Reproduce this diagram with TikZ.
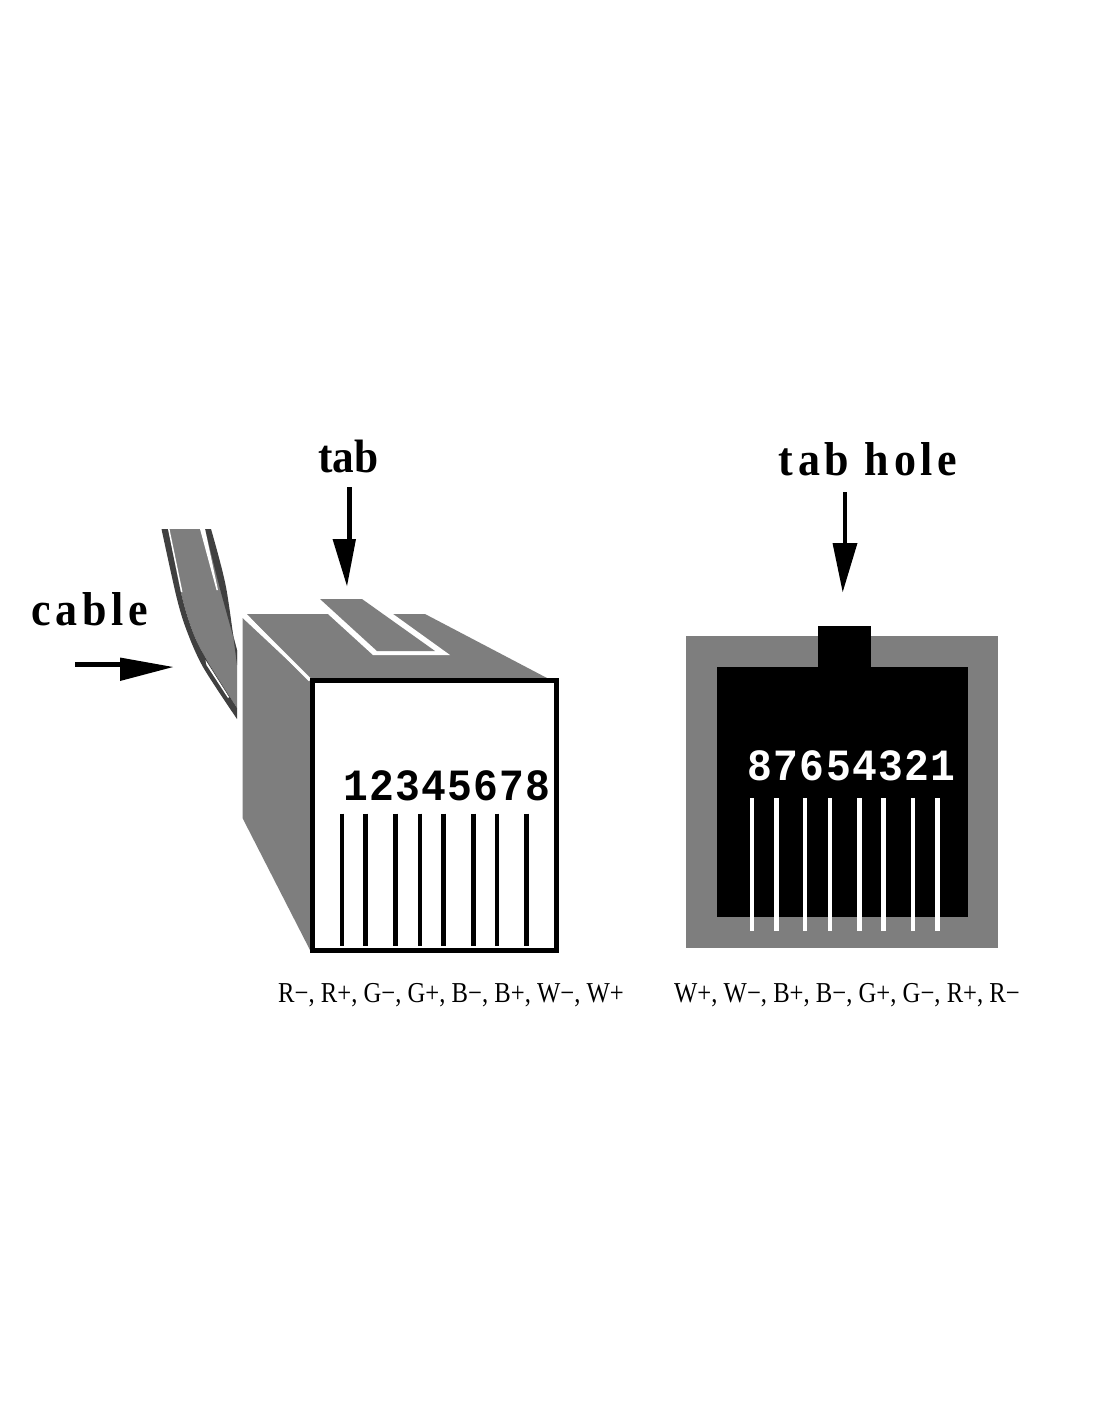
\documentclass[tikz,border=0pt]{standalone}
\usepackage{fontspec}
\setmainfont{Liberation Serif}
\newfontfamily\labelfont[LetterSpace=10.5]{Liberation Serif}
\newfontfamily\tightfont{Liberation Serif}
\newfontfamily\digitfont[LetterSpace=3]{Liberation Mono}
\newcommand{\tallbig}[1]{\scalebox{1}[1.08]{#1}}
\newcommand{\tallmap}[1]{\scalebox{1}[1.17]{#1}}
\definecolor{midgrey}{HTML}{7E7E7E}
\definecolor{darkgrey}{HTML}{404040}
\tikzset{
  x=0.75pt,y=-0.75pt,
  shellface/.style={fill=midgrey,draw=none},
  biglabel/.style={inner sep=0pt,anchor=base,font=\fontsize{33}{33}\bfseries\labelfont},
  tablabelstyle/.style={inner sep=0pt,anchor=base,font=\fontsize{32.5}{33}\bfseries\tightfont},
  digits/.style={inner sep=0pt,anchor=base,font=\fontsize{31}{31}\bfseries\digitfont},
  wiremap/.style={inner sep=0pt,anchor=base,font=\fontsize{18.5}{18.5}\selectfont},
  shaft/.style={draw=black,line width=3.5pt},
  head/.style={fill=black,draw=none},
  contact/.style={line width=3.4pt},
  cablestripe/.style={fill=darkgrey,draw=none},
  sliver/.style={fill=white,draw=none}
}
\begin{document}
\begin{tikzpicture}
\useasboundingbox (0,0) rectangle (1100,1422);
\fill[white] (0,0) rectangle (1100,1422);
% cable
\fill[midgrey] plot[smooth] coordinates {(167,529) (182,597) (194,635) (208,662) (237,708)} -- (237,663) -- plot[smooth] coordinates {(237,650) (221,587) (205,529)} -- cycle;
\path[cablestripe] plot[smooth] coordinates {(161.5,529) (176.5,597) (186.5,630) (203,667) (237,719)} -- plot[smooth] coordinates {(237,708) (208,662) (194,635) (182,597) (168,529)} -- cycle;
\path[cablestripe] plot[smooth] coordinates {(205,529) (219.5,587) (237,650)} -- (237,665) -- plot[smooth] coordinates {(237,665) (226,587) (211,529)} -- cycle;
\path[sliver] (168,529) -- (169.5,529) -- (182.5,592) -- (181,592) -- cycle;
\path[sliver] (200,529) -- (205,529) -- (218,590) -- (216.5,590) -- cycle;
\path[sliver] (205.5,660) -- (229,697) -- (228,698) -- (206.5,665) -- cycle;
% plug
\path[shellface] (242.5,618) -- (311,682) -- (311,952) -- (242.5,818) -- cycle;
\path[shellface] (247,614) -- (425,614) -- (547,678) -- (547,682) -- (311,682) -- cycle;
\draw[white,line width=2.6pt] (245,615) -- (310,680);
\fill[white] (328,614) -- (373,655) -- (450,655) -- (393,614) -- cycle;
\path[shellface] (320,599) -- (362,599) -- (435,651) -- (377,651) -- cycle;
\node[draw=black,fill=white,line width=3.3pt,minimum width=183pt,minimum height=202.5pt,inner sep=0pt,outer sep=0pt] (front) at (434.5,815.5) {};
\node[digits] (plugnums) at (447,800) {\tallbig{12345678}};
\foreach \i/\xx in {a/342,b/365.7,c/395.3,d/420,e/443.7,f/473.3,g/497,h/526.7}{
  \coordinate (pt\i) at (\xx,813.5);
  \coordinate (pb\i) at (\xx,945.5);
  \draw[contact,black] (pt\i) -- (pb\i);
}
\node[wiremap] (plugmap) at (451,1002) {\tallmap{R−, R+, G−, G+, B−, B+, W−, W+}};
% jack
\path[shellface] (686,636) rectangle (998,948);
\fill[black] (717,667) rectangle (968,917);
\fill[black] (818,626) rectangle (871,668);
\node[digits,white] (jacknums) at (851.5,780) {\tallbig{87654321}};
\foreach \i/\xx in {a/752,b/776.7,c/805,d/830,e/859.7,f/883.3,g/913,h/937.7}{
  \coordinate (jt\i) at (\xx,798);
  \coordinate (jb\i) at (\xx,931);
  \draw[contact,white] (jt\i) -- (jb\i);
}
\node[wiremap] (jackmap) at (847,1002) {\tallmap{W+, W−, B+, B−, G+, G−, R+, R−}};
% labels and arrows
\node[tablabelstyle] (tablabel) at (348.5,472) {\tallbig{tab}};
\node[biglabel] (holelabel) at (868,475) {\tallbig{tab hole}};
\node[biglabel] (cablelabel) at (90,625) {\tallbig{cable}};
\coordinate (tabtail) at (349.5,487);
\coordinate (tabend) at (349.5,540);
\draw[shaft] (tabtail) -- (tabend);
\path[head] (332.5,539) -- (356,539) -- (347,586) -- cycle;
\coordinate (holetail) at (845,492);
\coordinate (holeend) at (845,544);
\draw[shaft] (holetail) -- (holeend);
\path[head] (832.5,543) -- (857.5,543) -- (842.7,592) -- cycle;
\coordinate (cabletail) at (75,664.5);
\coordinate (cableend) at (122,664.5);
\draw[shaft] (cabletail) -- (cableend);
\path[head] (120,657.5) -- (173,667) -- (120,681) -- cycle;
\end{tikzpicture}
\end{document}
